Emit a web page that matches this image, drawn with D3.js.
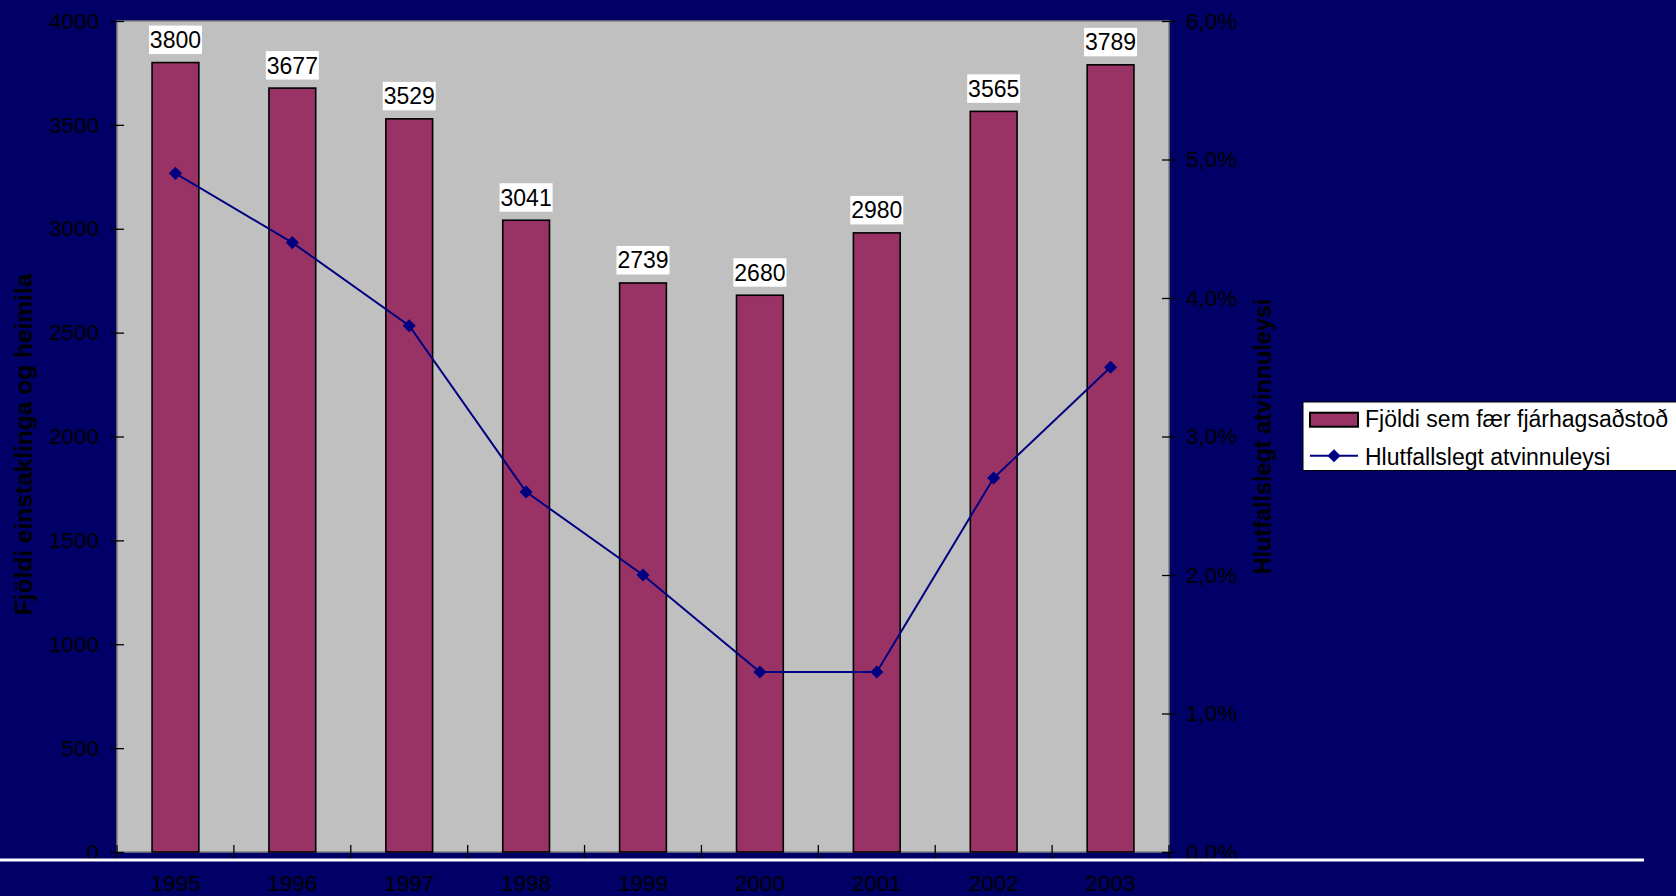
<!DOCTYPE html>
<html>
<head>
<meta charset="utf-8">
<script src="https://cdn.jsdelivr.net/npm/d3@7"></script>
<style>
  html, body { margin: 0; padding: 0; background: #000066; overflow: hidden; }
  svg { display: block; font-family: "Liberation Sans", Arial, sans-serif; }
</style>
</head>
<body>
<svg id="chart"></svg>
<script>
// chart data
var years = ["1995", "1996", "1997", "1998", "1999", "2000", "2001", "2002", "2003"];
var recipients = [3800, 3677, 3529, 3041, 2739, 2680, 2980, 3565, 3789];
var unemployment = [4.9, 4.4, 3.8, 2.6, 2.0, 1.3, 1.3, 2.7, 3.5];
var leftTicks = [0, 500, 1000, 1500, 2000, 2500, 3000, 3500, 4000];
var rightTicks = [0, 1, 2, 3, 4, 5, 6];
var legendLabels = ["Fjöldi sem fær fjárhagsaðstoð", "Hlutfallslegt atvinnuleysi"];

var width = 1676, height = 896;
var plot = {left: 117, right: 1169, top: 21, bottom: 852};
var font = "Liberation Sans, Arial, sans-serif";

var svg = d3.select("#chart").attr("width", width).attr("height", height);

svg.append("rect").attr("width", width).attr("height", height).attr("fill", "#000066");

// scales
var x = d3.scaleBand().domain(years).range([plot.left, plot.right]).paddingInner(0.6).paddingOuter(0.3);
var xCat = d3.scaleBand().domain(years).range([plot.left, plot.right]);
var yLeft = d3.scaleLinear().domain([0, 4000]).range([plot.bottom, plot.top]);
var yRight = d3.scaleLinear().domain([0, 6]).range([plot.bottom, plot.top]);

// plot area
svg.append("rect")
  .attr("x", plot.left).attr("y", plot.top)
  .attr("width", plot.right - plot.left).attr("height", plot.bottom - plot.top)
  .attr("fill", "#c0c0c0").attr("stroke", "#808080").attr("stroke-width", 1.5);

// bars
svg.selectAll("rect.bar")
  .data(recipients)
  .enter()
  .append("rect")
  .attr("class", "bar")
  .attr("x", function(d, i) { return x(years[i]); })
  .attr("y", function(d) { return yLeft(d); })
  .attr("width", x.bandwidth())
  .attr("height", function(d) { return yLeft(0) - yLeft(d); })
  .attr("fill", "#993366")
  .attr("stroke", "#000").attr("stroke-width", 1.6);

// data labels with white boxes
var lbl = svg.selectAll("g.lbl")
  .data(recipients)
  .enter()
  .append("g")
  .attr("class", "lbl")
  .attr("transform", function(d, i) {
    return "translate(" + (x(years[i]) + x.bandwidth() / 2) + "," + yLeft(d) + ")";
  });
lbl.append("rect")
  .attr("x", -26.5).attr("y", -37).attr("width", 53).attr("height", 28.5)
  .attr("fill", "#fff");
lbl.append("text")
  .attr("y", -14.5)
  .attr("text-anchor", "middle")
  .attr("font-size", 23)
  .attr("fill", "#000")
  .text(function(d) { return d; });

// line series
var line = d3.line()
  .x(function(d, i) { return x(years[i]) + x.bandwidth() / 2; })
  .y(function(d) { return yRight(d); });

svg.append("path")
  .datum(unemployment)
  .attr("d", line)
  .attr("fill", "none")
  .attr("stroke", "#000080")
  .attr("stroke-width", 2);

var diamond = d3.symbol().type(d3.symbolDiamond2).size(110);
svg.selectAll("path.mark")
  .data(unemployment)
  .enter()
  .append("path")
  .attr("class", "mark")
  .attr("d", diamond)
  .attr("transform", function(d, i) {
    return "translate(" + (x(years[i]) + x.bandwidth() / 2) + "," + yRight(d) + ")";
  })
  .attr("fill", "#000080");

// axes
var leftAxis = d3.axisLeft(yLeft).tickValues(leftTicks).tickFormat(d3.format("d"))
  .tickSizeInner(7).tickSizeOuter(0).tickPadding(11);
var gl = svg.append("g").attr("transform", "translate(" + plot.left + ",0)").call(leftAxis);
gl.select(".domain").remove();
gl.selectAll(".tick line").attr("x2", -7).attr("x1", 7).attr("stroke", "#000").attr("stroke-width", 1.3);
gl.selectAll("text").attr("font-size", 22.5).attr("fill", "#000").attr("font-family", font);

var rightAxis = d3.axisRight(yRight).tickValues(rightTicks).tickSizeInner(7).tickSizeOuter(0).tickPadding(10)
  .tickFormat(function(d) { return d.toFixed(1).replace(".", ",") + "%"; });
var gr = svg.append("g").attr("transform", "translate(" + plot.right + ",0)").call(rightAxis);
gr.select(".domain").remove();
gr.selectAll(".tick line").attr("x1", -7).attr("x2", 7).attr("stroke", "#000").attr("stroke-width", 1.3);
gr.selectAll("text").attr("font-size", 22.5).attr("fill", "#000").attr("font-family", font);

// category tick marks on boundaries
var bounds = years.map(function(y) { return xCat(y); }).concat([plot.right]);
svg.selectAll("line.xt")
  .data(bounds)
  .enter()
  .append("line")
  .attr("class", "xt")
  .attr("x1", function(d) { return d; }).attr("x2", function(d) { return d; })
  .attr("y1", plot.bottom - 7).attr("y2", plot.bottom + 7)
  .attr("stroke", "#000").attr("stroke-width", 1.3);

// white rule under the chart
svg.append("rect")
  .attr("x", 0).attr("y", 858.5).attr("width", 1644).attr("height", 3)
  .attr("fill", "#fff");

// x labels
svg.selectAll("text.xl")
  .data(years)
  .enter()
  .append("text")
  .attr("class", "xl")
  .attr("x", function(d) { return xCat(d) + xCat.bandwidth() / 2; })
  .attr("y", 891)
  .attr("text-anchor", "middle")
  .attr("font-size", 22.5)
  .attr("fill", "#000")
  .text(function(d) { return d; });

// axis titles
svg.append("text")
  .attr("transform", "translate(32," + ((plot.top + plot.bottom) / 2 + 8) + ") rotate(-90)")
  .attr("text-anchor", "middle")
  .attr("font-size", 24.5).attr("font-weight", "bold").attr("fill", "#000")
  .text("Fjöldi einstaklinga og heimila");

svg.append("text")
  .attr("transform", "translate(1271," + ((plot.top + plot.bottom) / 2) + ") rotate(-90)")
  .attr("text-anchor", "middle")
  .attr("font-size", 23.4).attr("font-weight", "bold").attr("fill", "#000")
  .text("Hlutfallslegt atvinnuleysi");

// legend
var lg = svg.append("g").attr("transform", "translate(1303,402)");
lg.append("rect").attr("width", 380).attr("height", 68.5)
  .attr("fill", "#fff").attr("stroke", "#000").attr("stroke-width", 1);
lg.append("rect").attr("x", 7).attr("y", 10.7).attr("width", 48).attr("height", 14)
  .attr("fill", "#993366").attr("stroke", "#000").attr("stroke-width", 2);
lg.append("line").attr("x1", 7).attr("x2", 55).attr("y1", 53.7).attr("y2", 53.7)
  .attr("stroke", "#000080").attr("stroke-width", 2);
lg.append("path").attr("d", diamond).attr("transform", "translate(31,53.7)").attr("fill", "#000080");
lg.selectAll("text.lt")
  .data(legendLabels)
  .enter()
  .append("text")
  .attr("class", "lt")
  .attr("x", 62)
  .attr("y", function(d, i) { return 25.3 + i * 37.5; })
  .attr("font-size", 23)
  .attr("fill", "#000")
  .text(function(d) { return d; });
</script>
</body>
</html>
